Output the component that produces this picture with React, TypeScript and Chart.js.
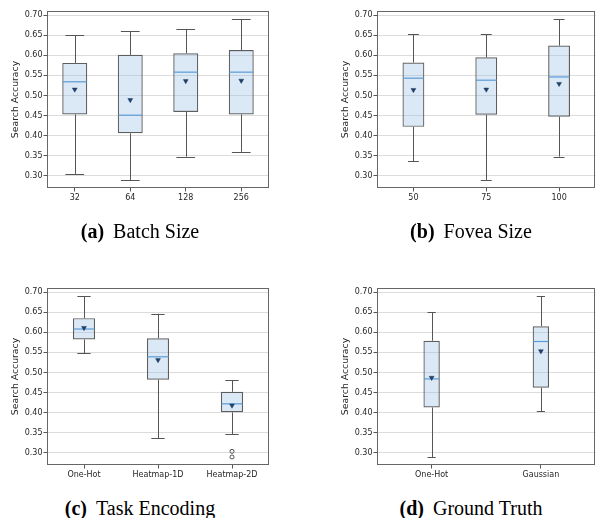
import React, { useEffect, useRef } from 'react';
import { Chart, registerables } from 'chart.js';

Chart.register(...registerables);

// ---- data ----
const yTickValues = [0.3, 0.35, 0.4, 0.45, 0.5, 0.55, 0.6, 0.65, 0.7];

const batchLabels = ['32', '64', '128', '256'];
const batchMin = [0.305, 0.29, 0.348, 0.36];
const batchQ1 = [0.453, 0.406, 0.459, 0.453];
const batchMed = [0.534, 0.451, 0.558, 0.558];
const batchQ3 = [0.581, 0.601, 0.605, 0.613];
const batchMax = [0.65, 0.66, 0.665, 0.69];
const batchMean = [0.515, 0.489, 0.536, 0.537];

const foveaLabels = ['50', '75', '100'];
const foveaMin = [0.337, 0.29, 0.348];
const foveaQ1 = [0.422, 0.452, 0.447];
const foveaMed = [0.543, 0.538, 0.546];
const foveaQ3 = [0.582, 0.595, 0.624];
const foveaMax = [0.652, 0.652, 0.689];
const foveaMean = [0.514, 0.515, 0.529];

const taskLabels = ['One-Hot', 'Heatmap-1D', 'Heatmap-2D'];
const taskMin = [0.548, 0.337, 0.347];
const taskQ1 = [0.582, 0.482, 0.401];
const taskMed = [0.608, 0.539, 0.422];
const taskQ3 = [0.635, 0.585, 0.452];
const taskMax = [0.69, 0.646, 0.481];
const taskMean = [0.611, 0.531, 0.418];
const taskOutliers = [[], [], [0.304, 0.29]];

const gtLabels = ['One-Hot', 'Gaussian'];
const gtMin = [0.29, 0.404];
const gtQ1 = [0.413, 0.462];
const gtMed = [0.484, 0.577];
const gtQ3 = [0.579, 0.615];
const gtMax = [0.65, 0.69];
const gtMean = [0.487, 0.553];

const yTitle = 'Search Accuracy';

// ---- styles ----
const BOX_FILL = 'rgba(150,190,230,0.34)';
const BOX_EDGE = '#5e5e5e';
const WHISKER = '#555555';
const MEDIAN = '#5b9bd5';
const MEAN = '#1f3f66';
const GRID = '#dcdcdc';
const FRAME = '#666666';
const TEXT = '#262626';

const boxPlugin = {
  id: 'boxStats',
  afterDatasetDraw(chart: any, args: any, opts: any) {
    if (args.index !== 0) return;
    const ctx = chart.ctx;
    const ys = chart.scales.y;
    const meta = chart.getDatasetMeta(0);
    ctx.save();
    meta.data.forEach((bar: any, i: number) => {
      const x = bar.x;
      const w = bar.width;
      const capW = w * opts.capRatio;
      const yMin = ys.getPixelForValue(opts.min[i]);
      const yMax = ys.getPixelForValue(opts.max[i]);
      const yQ1 = ys.getPixelForValue(opts.q1[i]);
      const yQ3 = ys.getPixelForValue(opts.q3[i]);
      const yMed = ys.getPixelForValue(opts.med[i]);
      const xc = Math.round(x) + 0.5;
      ctx.strokeStyle = WHISKER;
      ctx.lineWidth = 1;
      ctx.beginPath();
      ctx.moveTo(xc, yQ3);
      ctx.lineTo(xc, yMax);
      ctx.moveTo(xc, yQ1);
      ctx.lineTo(xc, yMin);
      ctx.moveTo(x - capW / 2, Math.round(yMax) + 0.5);
      ctx.lineTo(x + capW / 2, Math.round(yMax) + 0.5);
      ctx.moveTo(x - capW / 2, Math.round(yMin) + 0.5);
      ctx.lineTo(x + capW / 2, Math.round(yMin) + 0.5);
      ctx.stroke();
      ctx.strokeStyle = MEDIAN;
      ctx.lineWidth = 1.2;
      ctx.beginPath();
      ctx.moveTo(x - w / 2 + 0.5, yMed);
      ctx.lineTo(x + w / 2 - 0.5, yMed);
      ctx.stroke();
    });
    ctx.restore();
  },
  afterDraw(chart: any) {
    const { left, right, top, bottom } = chart.chartArea;
    const ctx = chart.ctx;
    ctx.save();
    ctx.strokeStyle = FRAME;
    ctx.lineWidth = 1;
    const l = Math.floor(left) + 0.5;
    const t = Math.floor(top) + 0.5;
    const r = Math.floor(right) - 0.5;
    const b = Math.floor(bottom) - 0.5;
    ctx.strokeRect(l, t, r - l, b - t);
    ctx.restore();
  },
};

type Props = {
  labels: string[];
  min: number[];
  q1: number[];
  med: number[];
  q3: number[];
  max: number[];
  mean: number[];
  outliers?: number[][];
  boxWidth: number;
  capRatio: number;
  left: number;
  top: number;
  width: number;
  padLeft: number;
  padRight: number;
  padTop: number;
  areaBottom: number;
};

const CANVAS_H = 230;

function BoxChart(p: Props) {
  const ref = useRef<HTMLCanvasElement | null>(null);
  useEffect(() => {
    if (!ref.current) return;
    const outlierPts: any[] = [];
    (p.outliers || []).forEach((arr, i) =>
      arr.forEach((v) => outlierPts.push({ x: p.labels[i], y: v }))
    );
    const chart = new Chart(ref.current, {
      type: 'bar',
      data: {
        labels: p.labels,
        datasets: [
          {
            type: 'bar',
            data: p.q1.map((v, i) => [v, p.q3[i]]),
            backgroundColor: BOX_FILL,
            borderColor: BOX_EDGE,
            borderWidth: 1.2,
            borderSkipped: false,
            barPercentage: p.boxWidth,
            categoryPercentage: 1,
            order: 3,
          } as any,
          {
            type: 'line',
            data: p.mean,
            showLine: false,
            pointStyle: 'triangle',
            rotation: 180,
            radius: 2.8,
            backgroundColor: MEAN,
            borderColor: MEAN,
            borderWidth: 0.5,
            order: 2,
          } as any,
          {
            type: 'line',
            data: outlierPts,
            showLine: false,
            pointStyle: 'circle',
            radius: 2,
            backgroundColor: 'rgba(255,255,255,0)',
            borderColor: '#444',
            borderWidth: 0.9,
            order: 1,
          } as any,
        ],
      },
      options: {
        animation: false,
        responsive: false,
        maintainAspectRatio: false,
        events: [],
        layout: {
          padding: { left: p.padLeft, right: p.padRight, top: p.padTop, bottom: 0 },
        },
        plugins: {
          legend: { display: false },
          tooltip: { enabled: false },
          boxStats: {
            min: p.min,
            q1: p.q1,
            med: p.med,
            q3: p.q3,
            max: p.max,
            capRatio: p.capRatio,
          },
        } as any,
        scales: {
          x: {
            type: 'category',
            offset: true,
            grid: {
              display: true,
              offset: false,
              drawOnChartArea: false,
              color: 'rgba(0,0,0,0)',
              tickColor: '#555',
              tickLength: 3.5,
            },
            border: { display: false },
            ticks: {
              color: TEXT,
              font: { family: 'DejaVu Sans', size: 8 },
              padding: 1.5,
              maxRotation: 0,
              autoSkip: false,
            },
            afterFit: (s: any) => {
              s.height = CANVAS_H - p.areaBottom;
            },
          },
          y: {
            type: 'linear',
            min: 0.27,
            max: 0.71,
            grid: {
              color: GRID,
              tickColor: '#555',
              tickLength: 3.5,
              lineWidth: 1,
            },
            border: { display: false },
            ticks: {
              color: TEXT,
              font: { family: 'DejaVu Sans', size: 8 },
              padding: 1,
              callback: (v: any) => Number(v).toFixed(2),
            },
            afterBuildTicks: (s: any) => {
              s.ticks = yTickValues.map((v) => ({ value: v }));
            },
            afterFit: (s: any) => {
              s.width = 47;
            },
            title: {
              display: true,
              text: yTitle,
              color: TEXT,
              font: { family: 'DejaVu Sans', size: 9.3 },
              padding: { top: 10, bottom: 0 },
            },
          },
        },
      } as any,
      plugins: [boxPlugin],
    });
    return () => chart.destroy();
  }, []);
  return (
    <canvas
      ref={ref}
      width={p.width}
      height={CANVAS_H}
      style={{
        position: 'absolute',
        left: p.left,
        top: p.top,
        width: p.width,
        height: CANVAS_H,
      }}
    />
  );
}

const captionStyle: React.CSSProperties = {
  position: 'absolute',
  width: 300,
  textAlign: 'center',
  fontFamily: "'Liberation Serif', 'Times New Roman', serif",
  fontSize: 20,
  lineHeight: '20px',
  color: '#000',
  whiteSpace: 'nowrap',
};

function Caption({ tag, text, cx, top }: { tag: string; text: string; cx: number; top: number }) {
  return (
    <div style={{ ...captionStyle, left: cx - 150, top }}>
      <span style={{ fontWeight: 'bold' }}>{tag}</span>
      <span style={{ marginLeft: 9 }}>{text}</span>
    </div>
  );
}

export default function App() {
  useEffect(() => {
    document.body.style.margin = '0';
  }, []);
  return (
    <div
      style={{
        position: 'absolute',
        left: 0,
        top: 0,
        width: 598,
        height: 518,
        overflow: 'hidden',
        background: '#fff',
      }}
    >
      <BoxChart
        labels={batchLabels}
        min={batchMin}
        q1={batchQ1}
        med={batchMed}
        q3={batchQ3}
        max={batchMax}
        mean={batchMean}
        boxWidth={0.45}
        capRatio={0.75}
        left={0}
        top={0}
        width={298}
        padLeft={0}
        padRight={29}
        padTop={11}
        areaBottom={188}
      />
      <BoxChart
        labels={foveaLabels}
        min={foveaMin}
        q1={foveaQ1}
        med={foveaMed}
        q3={foveaQ3}
        max={foveaMax}
        mean={foveaMean}
        boxWidth={0.3}
        capRatio={0.5}
        left={298}
        top={0}
        width={302}
        padLeft={32}
        padRight={1}
        padTop={11}
        areaBottom={188}
      />
      <BoxChart
        labels={taskLabels}
        min={taskMin}
        q1={taskQ1}
        med={taskMed}
        q3={taskQ3}
        max={taskMax}
        mean={taskMean}
        outliers={taskOutliers}
        boxWidth={0.3}
        capRatio={0.6}
        left={0}
        top={260}
        width={298}
        padLeft={0}
        padRight={29}
        padTop={28}
        areaBottom={205}
      />
      <BoxChart
        labels={gtLabels}
        min={gtMin}
        q1={gtQ1}
        med={gtMed}
        q3={gtQ3}
        max={gtMax}
        mean={gtMean}
        boxWidth={0.15}
        capRatio={0.5}
        left={298}
        top={260}
        width={302}
        padLeft={32}
        padRight={1}
        padTop={28}
        areaBottom={205}
      />
      <Caption tag="(a)" text="Batch Size" cx={140} top={221} />
      <Caption tag="(b)" text="Fovea Size" cx={471} top={221} />
      <Caption tag="(c)" text="Task Encoding" cx={140} top={498} />
      <Caption tag="(d)" text="Ground Truth" cx={471} top={498} />
    </div>
  );
}
